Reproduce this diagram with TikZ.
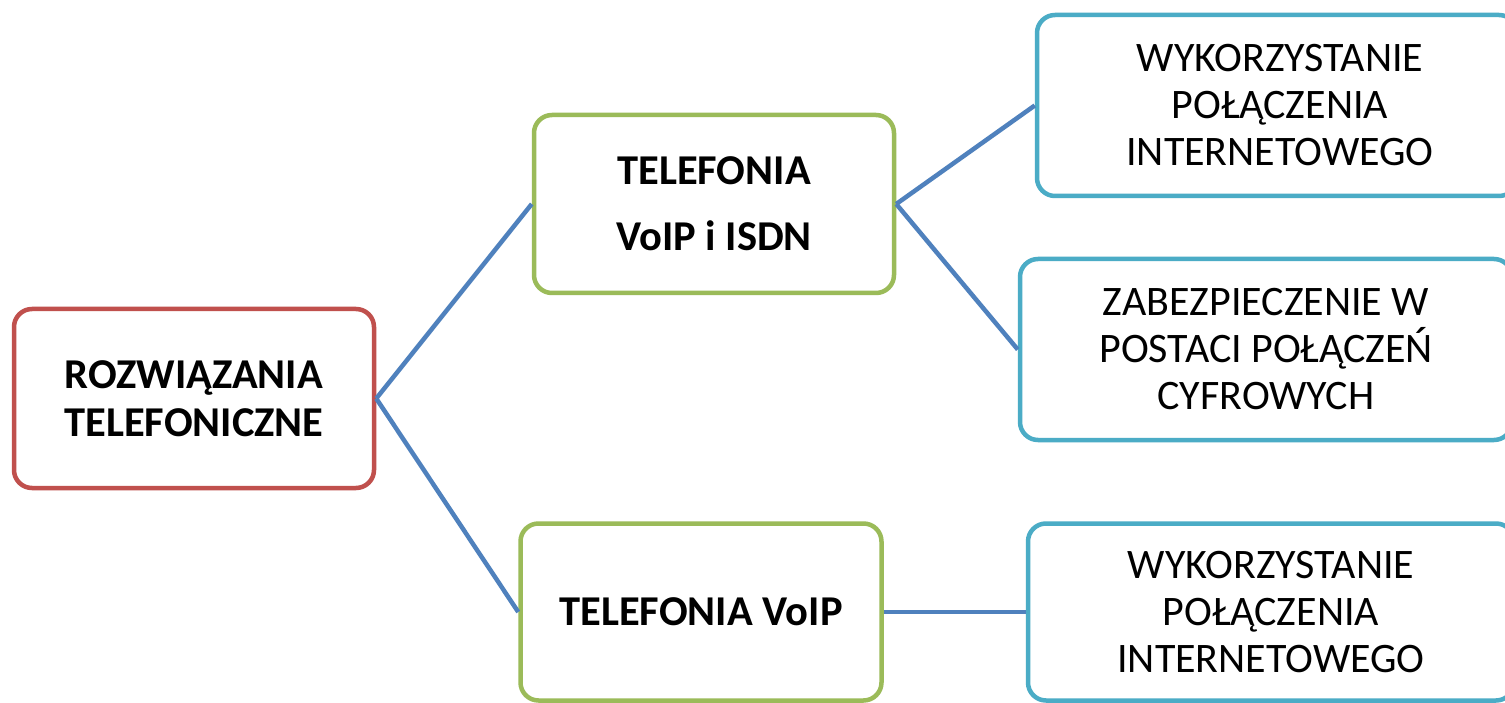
\documentclass[tikz,border=0pt]{standalone}
\usepackage{fontspec}
\setmainfont{Carlito}
\definecolor{rootred}{HTML}{C0504D}
\definecolor{midgreen}{HTML}{9BBB59}
\definecolor{leafblue}{HTML}{4BACC6}
\definecolor{linkblue}{HTML}{4F81BD}
\begin{document}
\begin{tikzpicture}[x=1pt,y=-1pt,
  box/.style={draw, line width=4.5pt, rounded corners=18pt, fill=white, align=center,
    font=\fontsize{42}{47}\selectfont, inner sep=0pt},
  rootbox/.style={box, draw=rootred, font=\bfseries\fontsize{42.5}{48}\selectfont},
  midbox/.style={box, draw=midgreen, font=\bfseries\fontsize{42.5}{47}\selectfont},
  leafbox/.style={box, draw=leafblue},
  link/.style={draw=linkblue, line width=4.5pt}]
\useasboundingbox (0,0) rectangle (1505,703);
\clip (0,0) rectangle (1505,703);
\fill[white] (0,0) rectangle (1505,703);
\node[rootbox, minimum width=360pt, minimum height=179pt] (root) at (194,398.5) {ROZWIĄZANIA\\TELEFONICZNE};
\node[midbox, minimum width=360pt, minimum height=178pt] (g1) at (714,204) {TELEFONIA\\[19pt]VoIP i ISDN};
\node[midbox, minimum width=361pt, minimum height=177pt] (g2) at (701,612) {TELEFONIA VoIP};
\node[leafbox, minimum width=480pt, minimum height=181pt] (b1) at (1277,105.5) {\hspace*{6pt}WYKORZYSTANIE\\\hspace*{6pt}POŁĄCZENIA\\\hspace*{6pt}INTERNETOWEGO};
\node[leafbox, minimum width=492pt, minimum height=181pt] (b2) at (1266,349.5) {ZABEZPIECZENIE W\\POSTACI POŁĄCZEŃ\\CYFROWYCH};
\node[leafbox, minimum width=486pt, minimum height=177pt] (b3) at (1271,612) {WYKORZYSTANIE\\POŁĄCZENIA\\INTERNETOWEGO};
\draw[link] (root.east) -- (g1.west);
\draw[link] (root.east) -- (g2.west);
\draw[link] (g1.east) -- (b1.west);
\draw[link] (g1.east) -- (b2.west);
\draw[link] (g2.east) -- (b3.west);
\end{tikzpicture}
\end{document}
